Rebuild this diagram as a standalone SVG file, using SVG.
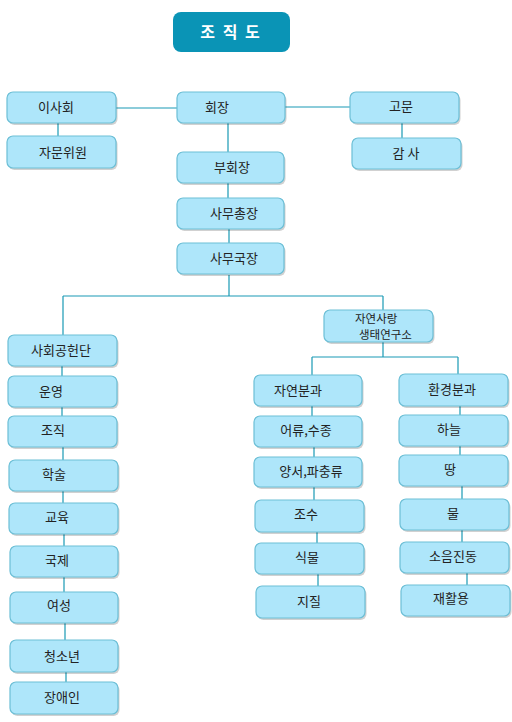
<svg xmlns="http://www.w3.org/2000/svg" width="512" height="722" viewBox="0 0 512 722">
<style>
.b{fill:#aee6fa;stroke:#6cbfd6;stroke-width:1.2}
.s{fill:#000;opacity:0.18}
.t{font-family:"Noto Sans CJK KR","Noto Sans",sans-serif;font-size:13px;fill:#222;text-anchor:middle}
.c{stroke:#1a9ab5;stroke-width:1.2;fill:none}
</style>
<rect width="512" height="722" fill="#fff"/>
<g id="title">
<rect x="173" y="12" width="117" height="40" rx="8" fill="#0a94b6"/>
<text x="231" y="38" font-family="Noto Sans CJK KR,sans-serif" font-size="16" font-weight="bold" fill="#fff" text-anchor="middle" letter-spacing="2">조 직 도</text>
</g>
<g id="connectors" class="c">
<path d="M116 108H177M285 107H350M58 123V136M402 123V138M228 123V152M228 183V198M229 229V243M229 275V296M63 296H383M63 296V335M383 296V310M62 366V376M62 407V416M63 447V460M63 491V503M64 534V546M64 577V592M65 623V640M66 672V682M383 342V357M312 357H458M312 357V375M458 357V374M312 406V416M314 447V457M314 487V500M317 532V543M318 574V586M460 406V415M460 446V455M462 486V499M462 530V542M467 573V585"/>
</g>
<g id="n_isahoe"><rect class="s" x="8.5" y="94" width="109" height="31" rx="6"/><rect class="b" x="7" y="92" width="109" height="31" rx="6"/><text class="t" x="56" y="112">이사회</text></g>
<g id="n_jamun"><rect class="s" x="8.5" y="138" width="109" height="32" rx="6"/><rect class="b" x="7" y="136" width="109" height="32" rx="6"/><text class="t" x="63" y="157">자문위원</text></g>
<g id="n_hoejang"><rect class="s" x="178.5" y="94" width="108" height="31" rx="6"/><rect class="b" x="177" y="92" width="108" height="31" rx="6"/><text class="t" x="217" y="112">회장</text></g>
<g id="n_gomun"><rect class="s" x="351.5" y="94" width="109" height="31" rx="6"/><rect class="b" x="350" y="92" width="109" height="31" rx="6"/><text class="t" x="401" y="111">고문</text></g>
<g id="n_gamsa"><rect class="s" x="353.5" y="140" width="109" height="31" rx="6"/><rect class="b" x="352" y="138" width="109" height="31" rx="6"/><text class="t" x="406" y="158">감 사</text></g>
<g id="n_buhoejang"><rect class="s" x="178.5" y="154" width="107" height="31" rx="6"/><rect class="b" x="177" y="152" width="107" height="31" rx="6"/><text class="t" x="232" y="172">부회장</text></g>
<g id="n_samuchong"><rect class="s" x="178.5" y="200" width="107" height="31" rx="6"/><rect class="b" x="177" y="198" width="107" height="31" rx="6"/><text class="t" x="234" y="218">사무총장</text></g>
<g id="n_samuguk"><rect class="s" x="178.5" y="245" width="107" height="31" rx="6"/><rect class="b" x="177" y="243" width="107" height="31" rx="6"/><text class="t" x="234" y="263">사무국장</text></g>
<g id="n_sahoe"><rect class="s" x="9.5" y="337" width="109" height="31" rx="6"/><rect class="b" x="8" y="335" width="109" height="31" rx="6"/><text class="t" x="61" y="355">사회공헌단</text></g>
<g id="n_unyeong"><rect class="s" x="9.5" y="378" width="109" height="31" rx="6"/><rect class="b" x="8" y="376" width="109" height="31" rx="6"/><text class="t" x="51" y="396">운영</text></g>
<g id="n_jojik"><rect class="s" x="9.5" y="418" width="109" height="31" rx="6"/><rect class="b" x="8" y="416" width="109" height="31" rx="6"/><text class="t" x="53" y="435">조직</text></g>
<g id="n_haksul"><rect class="s" x="10.5" y="462" width="109" height="31" rx="6"/><rect class="b" x="9" y="460" width="109" height="31" rx="6"/><text class="t" x="54" y="479">학술</text></g>
<g id="n_gyoyuk"><rect class="s" x="10.5" y="505" width="109" height="31" rx="6"/><rect class="b" x="9" y="503" width="109" height="31" rx="6"/><text class="t" x="57" y="522">교육</text></g>
<g id="n_gukje"><rect class="s" x="11.5" y="548" width="108" height="31" rx="6"/><rect class="b" x="10" y="546" width="108" height="31" rx="6"/><text class="t" x="57" y="565">국제</text></g>
<g id="n_yeoseong"><rect class="s" x="11.5" y="594" width="108" height="31" rx="6"/><rect class="b" x="10" y="592" width="108" height="31" rx="6"/><text class="t" x="59" y="610">여성</text></g>
<g id="n_cheongsonyeon"><rect class="s" x="11.5" y="642" width="108" height="32" rx="6"/><rect class="b" x="10" y="640" width="108" height="32" rx="6"/><text class="t" x="62" y="661">청소년</text></g>
<g id="n_jangaein"><rect class="s" x="11.5" y="684" width="108" height="32" rx="6"/><rect class="b" x="10" y="682" width="108" height="32" rx="6"/><text class="t" x="62" y="702">장애인</text></g>
<g id="n_yeonguso"><rect class="s" x="325.5" y="312" width="109" height="32" rx="6"/><rect class="b" x="324" y="310" width="109" height="32" rx="6"/><text class="t" style="text-anchor:start;font-size:11.5px"><tspan x="355" y="322.5">자연사랑</tspan><tspan x="359" y="338.5">생태연구소</tspan></text></g>
<g id="n_jayeon"><rect class="s" x="255.5" y="377" width="108" height="31" rx="6"/><rect class="b" x="254" y="375" width="108" height="31" rx="6"/><text class="t" x="298" y="395">자연분과</text></g>
<g id="n_hwangyeong"><rect class="s" x="400.5" y="376" width="109" height="32" rx="6"/><rect class="b" x="399" y="374" width="109" height="32" rx="6"/><text class="t" x="452" y="394">환경분과</text></g>
<g id="n_eoryu"><rect class="s" x="255.5" y="418" width="108" height="31" rx="6"/><rect class="b" x="254" y="416" width="108" height="31" rx="6"/><text class="t" x="306" y="435">어류,수종</text></g>
<g id="n_yangseo"><rect class="s" x="255.5" y="459" width="108" height="30" rx="6"/><rect class="b" x="254" y="457" width="108" height="30" rx="6"/><text class="t" x="311" y="476">양서,파충류</text></g>
<g id="n_josu"><rect class="s" x="256.5" y="502" width="109" height="32" rx="6"/><rect class="b" x="255" y="500" width="109" height="32" rx="6"/><text class="t" x="306" y="519">조수</text></g>
<g id="n_sikmul"><rect class="s" x="256.5" y="545" width="109" height="31" rx="6"/><rect class="b" x="255" y="543" width="109" height="31" rx="6"/><text class="t" x="307" y="562">식물</text></g>
<g id="n_jijil"><rect class="s" x="257.5" y="588" width="109" height="32" rx="6"/><rect class="b" x="256" y="586" width="109" height="32" rx="6"/><text class="t" x="309" y="606">지질</text></g>
<g id="n_haneul"><rect class="s" x="400.5" y="417" width="109" height="31" rx="6"/><rect class="b" x="399" y="415" width="109" height="31" rx="6"/><text class="t" x="449" y="434">하늘</text></g>
<g id="n_ttang"><rect class="s" x="400.5" y="457" width="109" height="31" rx="6"/><rect class="b" x="399" y="455" width="109" height="31" rx="6"/><text class="t" x="450" y="474">땅</text></g>
<g id="n_mul"><rect class="s" x="401.5" y="501" width="109" height="31" rx="6"/><rect class="b" x="400" y="499" width="109" height="31" rx="6"/><text class="t" x="453" y="518">물</text></g>
<g id="n_soeum"><rect class="s" x="401.5" y="544" width="109" height="31" rx="6"/><rect class="b" x="400" y="542" width="109" height="31" rx="6"/><text class="t" x="453" y="561">소음진동</text></g>
<g id="n_jaehwal"><rect class="s" x="402.5" y="587" width="109" height="31" rx="6"/><rect class="b" x="401" y="585" width="109" height="31" rx="6"/><text class="t" x="451" y="603">재활용</text></g>
</svg>
